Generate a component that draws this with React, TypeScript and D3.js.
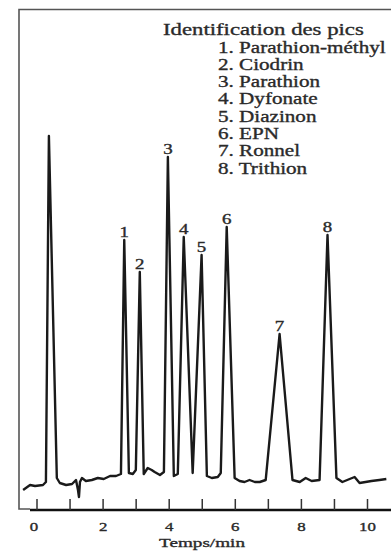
import React from "react";
import * as d3 from "d3";

// chromatogram trace (time in min, signal in arbitrary units)
const traceTime = [
  -0.42, -0.21, -0.06, 0.18, 0.27, 0.36, 0.6, 0.69, 0.88, 1.06, 1.18, 1.24, 1.27, 1.3,
  1.36, 1.48, 1.66, 1.84, 2.02, 2.21, 2.39, 2.54, 2.64, 2.78, 2.9, 2.99, 3.11, 3.23,
  3.35, 3.47, 3.56, 3.72, 3.84, 3.96, 4.14, 4.26, 4.44, 4.71, 4.98, 5.14, 5.29, 5.47,
  5.56, 5.74, 5.98, 6.13, 6.28, 6.43, 6.59, 6.74, 6.92, 7.34, 7.73, 7.95, 8.13, 8.31,
  8.55, 8.79, 9.06, 9.24, 9.46, 9.61, 9.76, 9.94, 10.12, 10.36, 10.57,
];
const traceSignal = [
  2.5, 3.75, 3.5, 3.75, 4.5, 91, 5.5, 4.25, 3.75, 4, 5, 2.5, 0.75, 4.5,
  5.5, 4.75, 5, 5.5, 5.25, 6, 6, 6.5, 65, 6.75, 6.5, 7.5, 57, 6.5,
  8, 7.5, 7, 6.25, 7, 85.75, 6, 6.5, 65.75, 6.75, 61.25, 6, 5.5, 5.75,
  6.75, 68.25, 5.5, 4.75, 4.5, 5, 4.5, 4.5, 5, 41.5, 5, 4.5, 5.5, 4.75,
  5, 66.25, 5.5, 4.5, 5.25, 5.75, 4.25, 4.5, 4.75, 5, 5.25,
];

const peakNumbers = ["1", "2", "3", "4", "5", "6", "7", "8"];
const peakTime = [2.64, 3.11, 3.96, 4.44, 4.98, 5.74, 7.34, 8.79];
const peakSignal = [65, 57, 85.75, 65.75, 61.25, 68.25, 41.5, 66.25];

const legendTitle = "Identification des pics";
const compounds = [
  "Parathion-méthyl",
  "Ciodrin",
  "Parathion",
  "Dyfonate",
  "Diazinon",
  "EPN",
  "Ronnel",
  "Trithion",
];

const xTicks = d3.range(0, 11);
const xTickLabels = [0, 2, 4, 6, 8, 10];
const xTitle = "Temps/min";

const W = 391;
const H = 551;
const frameLeft = 19;
const frameTop = 9.5;
const axisY = 510;
const serif = "'Liberation Serif', 'Times New Roman', serif";

type STextProps = {
  x: number;
  y: number;
  size: number;
  sx?: number;
  anchor?: "start" | "middle" | "end";
  children: React.ReactNode;
};

// the scanned figure is stretched sideways, so the lettering is too
const SText = ({ x, y, size, sx = 1.35, anchor = "start", children }: STextProps) => (
  <text
    transform={`translate(${x},${y}) scale(${sx},1)`}
    textAnchor={anchor}
    fontFamily={serif}
    fontSize={size}
    fill="#2a2a2a"
    stroke="#2a2a2a"
    strokeWidth={0.35}
  >
    {children}
  </text>
);

export default function App() {
  const x = d3.scaleLinear().domain([0, 10]).range([37, 367.5]);
  const y = d3.scaleLinear().domain([0, 100]).range([500, 100]);

  const points: [number, number][] = traceTime.map((t, i) => [t, traceSignal[i]]);
  const line = d3
    .line<[number, number]>()
    .x((d) => x(d[0]))
    .y((d) => y(d[1]));

  return (
    <svg
      width={W}
      height={H}
      style={{ position: "absolute", left: 0, top: 0, background: "#fff" }}
    >
      {/* frame */}
      <path
        d={`M${W},${frameTop}H${frameLeft}V${axisY - 1}H30`}
        fill="none"
        stroke="#555"
        strokeWidth={1.6}
      />
      {/* time axis */}
      <line x1={30} x2={W} y1={axisY} y2={axisY} stroke="#111" strokeWidth={2.6} />
      {xTicks.map((t) => (
        <line key={t} x1={x(t)} x2={x(t)} y1={axisY - 11} y2={axisY} stroke="#333" strokeWidth={1.5} />
      ))}
      {xTickLabels.map((t) => (
        <SText key={t} x={x(t) - (t === 0 ? 3 : 0)} y={531} size={12.5} anchor="middle">
          {t}
        </SText>
      ))}
      <SText x={202} y={546.5} size={13.5} sx={1.42} anchor="middle">
        {xTitle}
      </SText>

      {/* trace */}
      <path
        d={line(points) ?? ""}
        fill="none"
        stroke="#1a1a1a"
        strokeWidth={2.4}
        strokeLinejoin="round"
      />

      {/* peak numbers */}
      {peakNumbers.map((n, i) => (
        <SText key={n} x={x(peakTime[i])} y={y(peakSignal[i]) - 3} size={14} anchor="middle">
          {n}
        </SText>
      ))}

      {/* legend */}
      <SText x={163} y={35} size={17.5} sx={1.3}>
        {legendTitle}
      </SText>
      {compounds.map((c, i) => (
        <SText key={c} x={218} y={52.5 + i * 17.3} size={16.5} sx={1.28}>
          {`${i + 1}. ${c}`}
        </SText>
      ))}
    </svg>
  );
}
